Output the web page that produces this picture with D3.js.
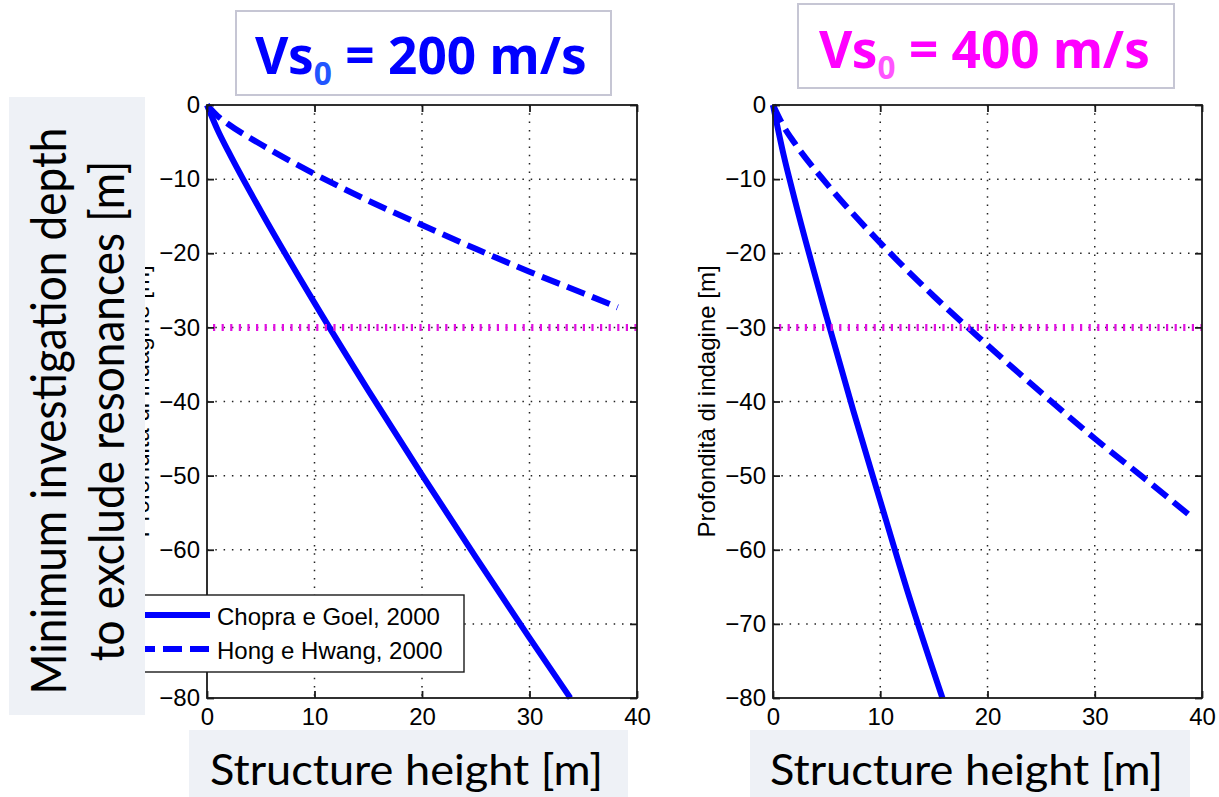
<!DOCTYPE html>
<html>
<head>
<meta charset="utf-8">
<script src="https://cdn.jsdelivr.net/npm/d3@7"></script>
<style>
  html, body { margin: 0; padding: 0; background: #ffffff; }
  svg { display: block; }
</style>
</head>
<body>
<svg id="chart" width="1219" height="797"></svg>
<script>
// Axis ticks
const xTicks = [0, 10, 20, 30, 40];
const yTicks = [0, -10, -20, -30, -40, -50, -60, -70, -80];
const limitDepth = -30;

// Vs0 = 200 m/s
const heightsChopra200 = [0, 1, 2, 5, 10, 15, 20, 25, 30, 33.8];
const depthChopra200   = [0, -3.4, -6.3, -14.3, -26.7, -38.5, -49.9, -61.0, -71.9, -80];
const heightsHong200   = [0, 1, 2, 5, 10, 15, 20, 25, 30, 35, 38.2];
const depthHong200     = [0, -1.5, -2.6, -5.3, -9.3, -12.9, -16.2, -19.4, -22.5, -25.4, -27.3];

// Vs0 = 400 m/s
const heightsChopra400 = [0, 1, 2, 5, 7.5, 10, 12.5, 15.8];
const depthChopra400   = [0, -6.8, -12.6, -28.6, -41.3, -53.4, -65.4, -80];
const heightsHong400   = [0, 1, 2, 5, 10, 15, 20, 25, 30, 35, 38.8];
const depthHong400     = [0, -2.9, -5.1, -10.6, -18.6, -25.8, -32.4, -38.8, -45.0, -50.8, -55.3];

const seriesNames = ["Chopra e Goel, 2000", "Hong e Hwang, 2000"];
const panelTitles = [
  { main: "Vs", sub: "0", rest: " = 200 m/s", color: "#0000ff", subColor: "#2255ff" },
  { main: "Vs", sub: "0", rest: " = 400 m/s", color: "#ff00ff", subColor: "#ff55ff" }
];
const xLabel = "Structure height [m]";
const yLabelLines = ["Minimum investigation depth", "to exclude resonances [m]"];
const axisYLabel = "Profondità di indagine [m]";

const svg = d3.select("#chart");
const BLUE = "#0000ff";
const TICK_FONT = "'Liberation Sans', Arial, Helvetica, sans-serif";
const SLIDE_FONT = "Lato, 'Open Sans', sans-serif";

const panels = [
  { left: 207, right: 637, top: 105, bottom: 698,
    series: [[heightsChopra200, depthChopra200], [heightsHong200, depthHong200]],
    title: panelTitles[0], titleBox: [236, 11, 611, 95], titleX: 255, titleBase: 74, titleW: 332,
    xLabBox: [189, 730, 628, 800], xLabX: 210, legend: true },
  { left: 773, right: 1202, top: 105, bottom: 698,
    series: [[heightsChopra400, depthChopra400], [heightsHong400, depthHong400]],
    title: panelTitles[1], titleBox: [798, 4, 1174, 88], titleX: 819, titleBase: 68, titleW: 331,
    xLabBox: [750, 730, 1190, 800], xLabX: 770, legend: false }
];

panels.forEach(p => {
  const x = d3.scaleLinear().domain([0, 40]).range([p.left, p.right]);
  const y = d3.scaleLinear().domain([0, -80]).range([p.top, p.bottom]);
  const g = svg.append("g");

  // plot background
  g.append("rect").attr("x", p.left).attr("y", p.top)
    .attr("width", p.right - p.left).attr("height", p.bottom - p.top)
    .attr("fill", "#ffffff");

  // dotted grid
  const grid = g.append("g").attr("stroke", "#222").attr("stroke-width", 1.5)
    .attr("stroke-dasharray", "1.5,6.8");
  xTicks.slice(1, -1).forEach(v => {
    grid.append("line").attr("x1", x(v)).attr("x2", x(v))
      .attr("y1", p.top).attr("y2", p.bottom);
  });
  yTicks.slice(1, -1).forEach(v => {
    grid.append("line").attr("x1", p.left).attr("x2", p.right)
      .attr("y1", y(v)).attr("y2", y(v));
  });

  // curves
  const line = d3.line().x(d => x(d[0])).y(d => y(d[1])).curve(d3.curveMonotoneX);
  p.series.forEach((s, i) => {
    const pts = s[0].map((h, k) => [h, s[1][k]]);
    g.append("path").attr("d", line(pts))
      .attr("fill", "none").attr("stroke", BLUE)
      .attr("stroke-width", 6)
      .attr("stroke-linejoin", "round")
      .attr("stroke-dasharray", i === 1 ? "19,8" : null);
  });

  // -30 m reference
  g.append("line").attr("x1", p.left + 6).attr("x2", p.right)
    .attr("y1", y(limitDepth)).attr("y2", y(limitDepth))
    .attr("stroke", "#e010e0").attr("stroke-width", 7)
    .attr("stroke-dasharray", "2.2,6.4");

  // axes with ticks on all four sides, pointing inward
  const axB = d3.axisBottom(x).tickValues(xTicks).tickSizeInner(-7).tickSizeOuter(0).tickPadding(10);
  const axT = d3.axisTop(x).tickValues(xTicks).tickSizeInner(-7).tickSizeOuter(0).tickFormat("");
  const axL = d3.axisLeft(y).tickValues(yTicks).tickSizeInner(-7).tickSizeOuter(0).tickPadding(7);
  const axR = d3.axisRight(y).tickValues(yTicks).tickSizeInner(-7).tickSizeOuter(0).tickFormat("");

  const style = sel => {
    sel.select(".domain").remove();
    sel.selectAll(".tick line").attr("stroke", "#1a1a1a").attr("stroke-width", 1.8);
    sel.selectAll(".tick text").attr("fill", "#000").attr("font-family", TICK_FONT).attr("font-size", 24);
  };
  g.append("g").attr("transform", `translate(0,${p.bottom})`).call(axB).call(style);
  g.append("g").attr("transform", `translate(0,${p.top})`).call(axT).call(style);
  g.append("g").attr("transform", `translate(${p.left},0)`).call(axL).call(style);
  g.append("g").attr("transform", `translate(${p.right},0)`).call(axR).call(style);

  g.append("rect").attr("x", p.left).attr("y", p.top)
    .attr("width", p.right - p.left).attr("height", p.bottom - p.top)
    .attr("fill", "none").attr("stroke", "#1a1a1a").attr("stroke-width", 1.8);

  // original axis label
  g.append("text")
    .attr("transform", `translate(${p.left - 58},${(p.top + p.bottom) / 2}) rotate(-90)`)
    .attr("text-anchor", "middle").attr("font-family", TICK_FONT).attr("font-size", 24)
    .attr("fill", "#000").text(axisYLabel);

  // legend
  if (p.legend) {
    const lg = g.append("g");
    lg.append("rect").attr("x", 128).attr("y", 595).attr("width", 464 - 128).attr("height", 672 - 595)
      .attr("fill", "#fff").attr("stroke", "#1a1a1a").attr("stroke-width", 1.4);
    [615, 649].forEach((ly, i) => {
      lg.append("line").attr("x1", 140).attr("x2", 210).attr("y1", ly).attr("y2", ly)
        .attr("stroke", BLUE).attr("stroke-width", 6)
        .attr("stroke-dasharray", i === 1 ? "19,8" : null)
        .attr("stroke-dashoffset", i === 1 ? 4 : 0);
      lg.append("text").attr("x", 217).attr("y", ly + 9.5)
        .attr("font-family", TICK_FONT).attr("font-size", 24).attr("fill", "#000")
        .text(seriesNames[i]);
    });
  }

  // x label box
  const [bx0, by0, bx1, by1] = p.xLabBox;
  svg.append("rect").attr("x", bx0).attr("y", by0).attr("width", bx1 - bx0).attr("height", by1 - by0)
    .attr("fill", "#eef1f6");
  svg.append("text").attr("x", p.xLabX).attr("y", 785)
    .attr("font-family", SLIDE_FONT).attr("font-size", 42)
    .attr("fill", "#000")
    .attr("textLength", 393).attr("lengthAdjust", "spacingAndGlyphs")
    .text(xLabel);

  // title box
  const [tx0, ty0, tx1, ty1] = p.titleBox;
  svg.append("rect").attr("x", tx0).attr("y", ty0).attr("width", tx1 - tx0).attr("height", ty1 - ty0)
    .attr("fill", "#fff").attr("stroke", "#c6c6d4").attr("stroke-width", 2);
  const tg = svg.append("g");
  const t = tg.append("text").attr("x", 0).attr("y", 0)
    .attr("font-family", "'Noto Sans', 'DejaVu Sans', sans-serif").attr("font-weight", "bold")
    .attr("font-size", 52).attr("fill", p.title.color);
  t.append("tspan").text(p.title.main);
  t.append("tspan").attr("font-size", 32).attr("dy", 11).attr("fill", p.title.subColor).text(p.title.sub);
  t.append("tspan").attr("dy", -11).attr("font-size", 52).text(p.title.rest);
  const bb = t.node().getBBox();
  const sx = p.titleW / bb.width;
  tg.attr("transform", `translate(${p.titleX - bb.x * sx},${p.titleBase}) scale(${sx},1)`);
});

// shared y label, two centred lines
svg.append("rect").attr("x", 9).attr("y", 97).attr("width", 136).attr("height", 618)
  .attr("fill", "#eef1f6");
const yLabelTexts = yLabelLines.map((txt, i) =>
  svg.append("text")
    .attr("transform", `translate(${i === 0 ? 66 : 124},411) rotate(-90)`)
    .attr("text-anchor", "middle")
    .attr("font-family", SLIDE_FONT).attr("font-size", 48)
    .attr("fill", "#000")
    .text(txt));
const squeeze = 567 / yLabelTexts[0].node().getComputedTextLength();
yLabelTexts.forEach(t => {
  const w = t.node().getComputedTextLength();
  t.attr("textLength", w * squeeze).attr("lengthAdjust", "spacingAndGlyphs");
});
</script>
</body>
</html>
